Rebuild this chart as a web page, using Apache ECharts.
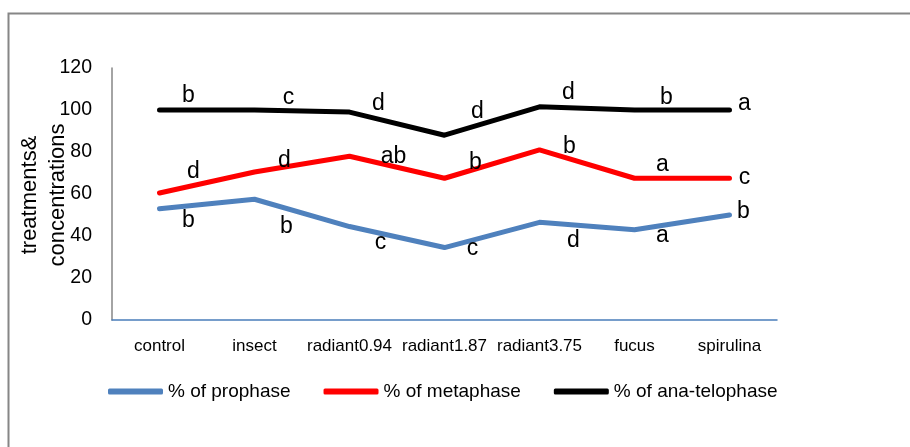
<!DOCTYPE html>
<html>
<head>
<meta charset="utf-8">
<script src="https://cdn.jsdelivr.net/npm/echarts@6/dist/echarts.min.js"></script>
<style>
html,body{margin:0;padding:0;background:#fff;}
#chart{width:910px;height:447px;}
</style>
</head>
<body>
<div id="chart"></div>
<script>
const categories = ['control', 'insect', 'radiant0.94', 'radiant1.87', 'radiant3.75', 'fucus', 'spirulina'];
const yTicks = [0, 20, 40, 60, 80, 100, 120];
const seriesNames = ['% of prophase', '% of metaphase', '% of ana-telophase'];
const prophase = [53, 57.5, 44.5, 34.5, 46.5, 43, 50];
const metaphase = [60.5, 70.5, 78, 67.5, 81, 67.5, 67.5];
const anaTelophase = [100, 100, 99, 88, 101.5, 100, 100];
const prophaseLetters = ['b', 'b', 'c', 'c', 'd', 'a', 'b'];
const metaphaseLetters = ['d', 'd', 'ab', 'b', 'b', 'a', 'c'];
const anaTelophaseLetters = ['b', 'c', 'd', 'd', 'd', 'b', 'a'];

// label placement (style only)
const prophaseOffsets = [[29, 12], [32, 27], [31, 16], [28, 1], [34, 18], [28, 6], [14, -3]];
const metaphaseOffsets = [[34, -21], [30, -11], [44, 0], [31, -16], [30, -3], [28, -14], [15, -1]];
const anaOffsets = [[29, -14], [34, -12], [29, -8], [33, -24], [29, -14], [32, -12], [15, -6]];

const FONT = '"Liberation Sans", Arial, sans-serif';
const LETTER_SIZE = 23;

function build(values, letters, offsets) {
  return values.map((v, i) => ({
    value: v,
    label: {
      show: true,
      position: 'inside',
      formatter: letters[i],
      offset: offsets[i],
      fontSize: LETTER_SIZE,
      fontFamily: FONT,
      color: '#000'
    }
  }));
}

function lineSeries(name, color, values, letters, offsets) {
  return {
    name: name,
    type: 'line',
    data: build(values, letters, offsets),
    symbol: 'circle',
    symbolSize: 1,
    showSymbol: true,
    itemStyle: { color: color },
    lineStyle: { color: color, width: 5, cap: 'round', join: 'round' },
    label: {
      show: true,
      position: 'inside',
      color: '#000',
      fontFamily: FONT,
      fontSize: LETTER_SIZE
    },
    emphasis: { disabled: true },
    z: 2
  };
}

const chart = echarts.init(document.getElementById('chart'), null, { renderer: 'canvas' });
chart.setOption({
  animation: false,
  backgroundColor: '#fff',
  grid: { left: 112, right: 133, top: 68, bottom: 127, containLabel: false },
  xAxis: {
    type: 'category',
    data: categories,
    boundaryGap: true,
    axisLine: { show: true, lineStyle: { color: '#4a7ebb', width: 1.5 } },
    axisTick: { show: false },
    axisLabel: { color: '#000', fontFamily: FONT, fontSize: 17, margin: 18, interval: 0 },
    splitLine: { show: false }
  },
  yAxis: {
    type: 'value',
    min: yTicks[0],
    max: yTicks[yTicks.length - 1],
    interval: 20,
    axisLine: { show: true, lineStyle: { color: '#868686', width: 1.5 } },
    axisTick: { show: false },
    axisLabel: { color: '#000', fontFamily: FONT, fontSize: 19.5, margin: 20 },
    splitLine: { show: false }
  },
  legend: {
    data: seriesNames,
    left: 103,
    top: 377,
    itemWidth: 55,
    itemHeight: 6,
    itemGap: 33,
    icon: 'roundRect',
    textStyle: { color: '#000', fontFamily: FONT, fontSize: 19 }
  },
  graphic: [
    {
      type: 'polyline',
      shape: { points: [[8.5, 447], [8.5, 13.5], [910, 13.5]] },
      style: { stroke: '#868686', lineWidth: 2, fill: null },
      silent: true
    },
    {
      type: 'text',
      x: 44,
      y: 195,
      rotation: Math.PI / 2,
      style: {
        text: 'treatments&\nconcentrations',
        align: 'center',
        verticalAlign: 'middle',
        font: '22px ' + FONT,
        lineHeight: 28,
        fill: '#000'
      },
      silent: true
    }
  ],
  series: [
    lineSeries(seriesNames[0], '#4f81bd', prophase, prophaseLetters, prophaseOffsets),
    lineSeries(seriesNames[1], '#ff0000', metaphase, metaphaseLetters, metaphaseOffsets),
    lineSeries(seriesNames[2], '#000000', anaTelophase, anaTelophaseLetters, anaOffsets)
  ]
});
</script>
</body>
</html>
